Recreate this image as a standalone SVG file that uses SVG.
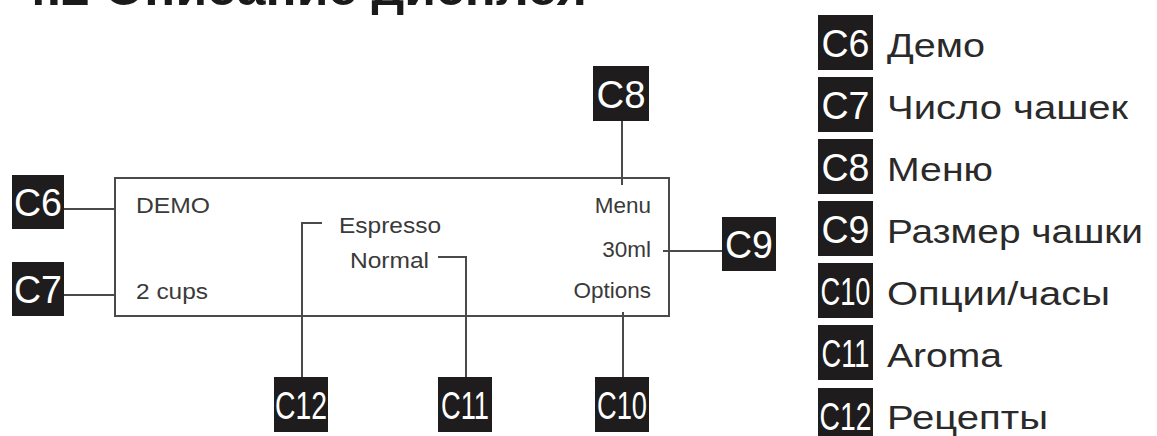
<svg xmlns="http://www.w3.org/2000/svg" width="1157" height="436" viewBox="0 0 1157 436">
<style>
.tag{fill:#1e1c1c}
.tagt{font-family:"Liberation Sans",Arial,sans-serif;font-size:39px;fill:#fff;text-anchor:middle}
.disp{font-family:"Liberation Sans",Arial,sans-serif;font-size:22.5px;fill:#3a3a3a}
.leg{font-family:"Liberation Sans",Arial,sans-serif;font-size:33px;fill:#2a2a2a}
.ln{stroke:#4a4a4a;stroke-width:2;fill:none}
.head{font-family:"Liberation Sans",Arial,sans-serif;font-size:50px;font-weight:bold;fill:#1a1a1a}
</style>
<text class="head" x="18" y="5" textLength="569" lengthAdjust="spacingAndGlyphs">4.2 Описание дисплея</text>
<g id="display">
<rect x="115" y="178" width="554" height="138" class="ln"/>
<text class="disp" x="136" y="213" textLength="74" lengthAdjust="spacingAndGlyphs">DEMO</text>
<text class="disp" x="136" y="299" textLength="72" lengthAdjust="spacingAndGlyphs">2 cups</text>
<text class="disp" x="339" y="233" textLength="102" lengthAdjust="spacingAndGlyphs">Espresso</text>
<text class="disp" x="350" y="268" textLength="79" lengthAdjust="spacingAndGlyphs">Normal</text>
<text class="disp" x="651" y="213" text-anchor="end">Menu</text>
<text class="disp" x="651" y="257" text-anchor="end">30ml</text>
<text class="disp" x="651" y="298" text-anchor="end">Options</text>
</g>
<g id="connectors">
<path class="ln" d="M63 209H115"/>
<path class="ln" d="M63 295H115"/>
<path class="ln" d="M622 121V185"/>
<path class="ln" d="M663 251H722"/>
<path class="ln" d="M623 312V377"/>
<path class="ln" d="M438 257H466V377"/>
<path class="ln" d="M322 223H302V377"/>
</g>
<g id="C6"><rect class="tag" x="12" y="175" width="52" height="54"/><text class="tagt" x="38" y="216" textLength="48" lengthAdjust="spacingAndGlyphs">C6</text></g>
<g id="C7"><rect class="tag" x="12" y="262" width="52" height="54"/><text class="tagt" x="38" y="303" textLength="48" lengthAdjust="spacingAndGlyphs">C7</text></g>
<g id="C8"><rect class="tag" x="593" y="66" width="56" height="55"/><text class="tagt" x="621" y="108" textLength="49" lengthAdjust="spacingAndGlyphs">C8</text></g>
<g id="C9"><rect class="tag" x="722" y="217" width="54" height="54"/><text class="tagt" x="749" y="258" textLength="48" lengthAdjust="spacingAndGlyphs">C9</text></g>
<g id="C10"><rect class="tag" x="595" y="377" width="54" height="55"/><text class="tagt" x="622" y="419" textLength="50" lengthAdjust="spacingAndGlyphs">C10</text></g>
<g id="C11"><rect class="tag" x="438" y="377" width="54" height="55"/><text class="tagt" x="465" y="419" textLength="48" lengthAdjust="spacingAndGlyphs">C11</text></g>
<g id="C12"><rect class="tag" x="274" y="377" width="54" height="55"/><text class="tagt" x="301" y="419" textLength="52" lengthAdjust="spacingAndGlyphs">C12</text></g>
<g id="legend">
<g id="leg-C6"><rect class="tag" x="818" y="15" width="55" height="55"/><text class="tagt" x="845.5" y="57" textLength="48" lengthAdjust="spacingAndGlyphs">C6</text><text class="leg" x="887" y="57" textLength="98" lengthAdjust="spacingAndGlyphs">Демо</text></g>
<g id="leg-C7"><rect class="tag" x="818" y="77" width="55" height="55"/><text class="tagt" x="845.5" y="119" textLength="48" lengthAdjust="spacingAndGlyphs">C7</text><text class="leg" x="887" y="119" textLength="241" lengthAdjust="spacingAndGlyphs">Число чашек</text></g>
<g id="leg-C8"><rect class="tag" x="818" y="139" width="55" height="55"/><text class="tagt" x="845.5" y="181" textLength="48" lengthAdjust="spacingAndGlyphs">C8</text><text class="leg" x="887" y="181" textLength="106" lengthAdjust="spacingAndGlyphs">Меню</text></g>
<g id="leg-C9"><rect class="tag" x="818" y="201" width="55" height="55"/><text class="tagt" x="845.5" y="243" textLength="48" lengthAdjust="spacingAndGlyphs">C9</text><text class="leg" x="887" y="243" textLength="256" lengthAdjust="spacingAndGlyphs">Размер чашки</text></g>
<g id="leg-C10"><rect class="tag" x="818" y="263" width="55" height="55"/><text class="tagt" x="845.5" y="305" textLength="50" lengthAdjust="spacingAndGlyphs">C10</text><text class="leg" x="887" y="305" textLength="223" lengthAdjust="spacingAndGlyphs">Опции/часы</text></g>
<g id="leg-C11"><rect class="tag" x="818" y="325" width="55" height="55"/><text class="tagt" x="845.5" y="367" textLength="48" lengthAdjust="spacingAndGlyphs">C11</text><text class="leg" x="887" y="367" textLength="115" lengthAdjust="spacingAndGlyphs">Aroma</text></g>
<g id="leg-C12"><rect class="tag" x="818" y="388" width="55" height="55"/><text class="tagt" x="845.5" y="430" textLength="52" lengthAdjust="spacingAndGlyphs">C12</text><text class="leg" x="887" y="429" textLength="161" lengthAdjust="spacingAndGlyphs">Рецепты</text></g>
</g>
</svg>
